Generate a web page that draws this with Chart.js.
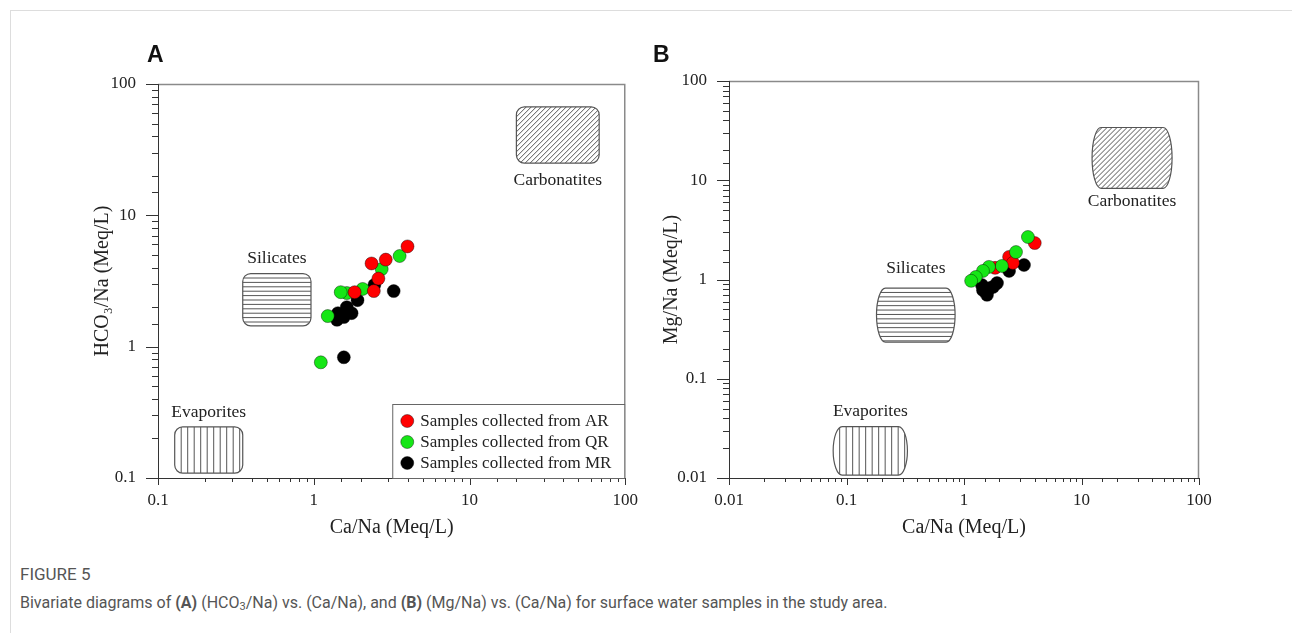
<!DOCTYPE html>
<html>
<head>
<meta charset="utf-8">
<script src="https://cdn.jsdelivr.net/npm/chart.js@4.4.1/dist/chart.umd.min.js"></script>
<style>
  body { margin: 0; background: #fff; width: 1292px; height: 633px; overflow: hidden; position: relative; }
  #frame { position: absolute; left: 10px; top: 10px; right: 0; bottom: 0; border-top: 1px solid #ddd; border-left: 1px solid #ddd; }
  canvas { position: absolute; top: 0; }
  #chartA { left: 0; }
  #chartB { left: 650px; }
  .letter { position: absolute; top: 41px; font: bold 23px "Liberation Sans", Arial, sans-serif; color: #111; }
  #fig { position: absolute; left: 20px; top: 564px; font: 17px Roboto, sans-serif; color: #555; }
  #cap { position: absolute; left: 20px; top: 593px; font: 16px Roboto, sans-serif; color: #555; white-space: nowrap; }
  #cap sub { font-size: 11px; vertical-align: -2px; line-height: 0; }
</style>
</head>
<body>
<div id="frame"></div>
<canvas id="chartA" width="650" height="550"></canvas>
<canvas id="chartB" width="642" height="550"></canvas>
<div class="letter" style="left:147px">A</div>
<div class="letter" style="left:653px">B</div>
<div id="fig">FIGURE 5</div>
<div id="cap">Bivariate diagrams of <b>(A)</b> (HCO<sub>3</sub>/Na) vs. (Ca/Na), and <b>(B)</b> (Mg/Na) vs. (Ca/Na) for surface water samples in the study area.</div>
<script>
// Data - panel A (HCO3/Na vs Ca/Na)
const arCaA = [4.0, 2.9, 2.35, 2.6, 2.43, 1.83];
const arHco3 = [5.8, 4.6, 4.3, 3.3, 2.65, 2.6];
const qrCaA = [3.56, 2.73, 2.06, 1.63, 1.49, 1.23, 1.11];
const qrHco3 = [4.9, 3.9, 2.75, 2.56, 2.6, 1.71, 0.76];
const mrCaA = [3.26, 2.45, 1.91, 1.63, 1.75, 1.43, 1.41, 1.56, 1.56];
const mrHco3 = [2.65, 2.95, 2.26, 2.0, 1.8, 1.8, 1.6, 1.68, 0.83];

// Data - panel B (Mg/Na vs Ca/Na)
const arCaB = [4.0, 2.42, 2.61, 1.84];
const arMg = [2.33, 1.69, 1.47, 1.31];
const qrCaB = [3.5, 2.77, 2.1, 1.63, 1.45, 1.26, 1.15];
const qrMg = [2.68, 1.89, 1.37, 1.34, 1.22, 1.06, 0.97];
const mrCaB = [3.24, 2.42, 1.91, 1.66, 1.45, 1.57, 1.77, 1.42];
const mrMg = [1.4, 1.22, 0.92, 0.82, 0.78, 0.70, 0.84, 0.88];

const seriesLabels = ["Samples collected from AR", "Samples collected from QR", "Samples collected from MR"];
const seriesColors = ["#ff0000", "#16e616", "#000000"];

// End-member zones (data ranges)
const zoneNames = ["Carbonatites", "Silicates", "Evaporites"];
const zoneHatch = ["diag", "horiz", "vert"];
const zoneAX = [[20, 68], [0.35, 0.96], [0.128, 0.35]];
const zoneAY = [[25, 67], [1.44, 3.6], [0.109, 0.245]];
const zoneBX = [[12.3, 59], [0.18, 0.84], [0.077, 0.33]];
const zoneBY = [[8.3, 34], [0.234, 0.82], [0.0107, 0.033]];

const serif = "Liberation Serif";
const txt = "#222";

function isMajor(v) {
  const l = Math.log10(v);
  return Math.abs(l - Math.round(l)) < 1e-6;
}
function logLabel(v) {
  if (!isMajor(v)) return "";
  const e = Math.round(Math.log10(v));
  return e < 0 ? (10 ** e).toFixed(-e) : String(10 ** e);
}

function pts(xs, ys) { return xs.map((x, i) => ({ x, y: ys[i] })); }

function axis(min, max, title, pos, size) {
  return {
    type: "logarithmic", position: pos, min, max,
    grid: { display: false, drawTicks: false },
    border: { display: false },
    ticks: {
      autoSkip: false, maxRotation: 0, padding: pos === "bottom" ? 12 : 22,
      color: txt, font: { family: serif, size: 17 }, callback: logLabel
    },
    title: { display: true, text: title, color: txt, font: { family: serif, size: 20 }, padding: { top: 4, bottom: 4 } },
    afterFit(s) { if (pos === "bottom") s.height = size; else s.width = size; }
  };
}

// frame + tick marks
const framePlugin = {
  id: "frame",
  beforeDatasetsDraw(chart) {
    const { ctx, chartArea: a, scales: { x, y } } = chart;
    ctx.save();
    ctx.strokeStyle = "#8a8a8a"; ctx.lineWidth = 1.5;
    ctx.beginPath();
    ctx.moveTo(a.left, a.top + 0.5); ctx.lineTo(a.right - 0.5, a.top + 0.5); ctx.lineTo(a.right - 0.5, a.bottom);
    ctx.stroke();
    ctx.strokeStyle = "#333"; ctx.lineWidth = 1;
    ctx.beginPath();
    ctx.moveTo(a.left + 0.5, a.top); ctx.lineTo(a.left + 0.5, a.bottom + 0.5); ctx.lineTo(a.right, a.bottom + 0.5);
    x.ticks.forEach(t => {
      const p = Math.round(x.getPixelForValue(t.value)) + 0.5;
      ctx.moveTo(p, a.bottom); ctx.lineTo(p, a.bottom + (isMajor(t.value) ? 7 : 4));
    });
    y.ticks.forEach(t => {
      const p = Math.round(y.getPixelForValue(t.value)) + 0.5;
      ctx.moveTo(a.left, p); ctx.lineTo(a.left - (isMajor(t.value) ? 12 : 6), p);
    });
    ctx.stroke();
    ctx.restore();
  }
};

// hatched end-member boxes
const zonePlugin = {
  id: "zones",
  beforeDatasetsDraw(chart, args, opts) {
    const { ctx, scales: { x, y } } = chart;
    opts.xs.forEach((xr, i) => {
      const l = x.getPixelForValue(xr[0]), r = x.getPixelForValue(xr[1]);
      const t = y.getPixelForValue(opts.ys[i][1]), b = y.getPixelForValue(opts.ys[i][0]);
      const w = r - l, h = b - t;
      ctx.save();
      ctx.beginPath();
      ctx.roundRect(l, t, w, h, opts.barrel ? [{ x: 9, y: h / 2 }] : 8);
      ctx.strokeStyle = "#555"; ctx.lineWidth = 1.2;
      ctx.stroke();
      ctx.clip();
      ctx.beginPath();
      const kind = zoneHatch[i];
      if (kind === "vert") {
        for (let px = l + 6.5; px < r; px += 6.5) { ctx.moveTo(px, t); ctx.lineTo(px, b); }
      } else if (kind === "horiz") {
        for (let py = t + 4.4; py < b; py += 4.4) { ctx.moveTo(l, py); ctx.lineTo(r, py); }
      } else {
        for (let k = -h; k < w + h; k += 5) { ctx.moveTo(l + k, b); ctx.lineTo(l + k + h, t); }
      }
      ctx.strokeStyle = "#555"; ctx.lineWidth = 1;
      ctx.stroke();
      ctx.restore();
      ctx.save();
      ctx.font = `17.5px "${serif}"`;
      ctx.fillStyle = txt; ctx.textAlign = "center"; ctx.textBaseline = "middle";
      const cx = (l + r) / 2;
      const ly = i === 0 ? b + opts.gaps[i] : t - opts.gaps[i];
      ctx.fillText(zoneNames[i], cx, ly);
      ctx.restore();
    });
  }
};

// legend box in lower right of panel A
const legendPlugin = {
  id: "legendBox",
  afterDraw(chart, args, opts) {
    if (!opts.show) return;
    const { ctx, chartArea: a } = chart;
    const l = a.right - 233, t = a.bottom - 74;
    ctx.save();
    ctx.fillStyle = "#fff";
    ctx.fillRect(l, t, a.right - l, a.bottom - t);
    ctx.strokeStyle = "#666"; ctx.lineWidth = 1;
    ctx.strokeRect(l + 0.5, t + 0.5, a.right - l - 1, a.bottom - t);
    ctx.font = `17px "${serif}"`; ctx.textBaseline = "middle"; ctx.fillStyle = txt;
    seriesLabels.forEach((lab, i) => {
      const yy = t + 17 + i * 21;
      ctx.beginPath();
      ctx.arc(l + 15, yy, 6.5, 0, Math.PI * 2);
      ctx.fillStyle = seriesColors[i]; ctx.fill();
      ctx.strokeStyle = "rgba(0,0,0,0.5)"; ctx.lineWidth = 0.8; ctx.stroke();
      ctx.fillStyle = txt;
      ctx.fillText(lab, l + 28, yy + 1);
    });
    ctx.restore();
  }
};

function ds(i, data, order) {
  return {
    label: seriesLabels[i], data, order,
    backgroundColor: seriesColors[i], borderColor: "rgba(0,0,0,0.5)", borderWidth: 0.8,
    pointRadius: 6.5, pointHoverRadius: 6.5
  };
}

new Chart(document.getElementById("chartA"), {
  type: "scatter",
  data: {
    datasets: [
      ds(0, pts(arCaA, arHco3), 0),
      ds(1, pts(qrCaA, qrHco3), 1),
      ds(2, pts(mrCaA, mrHco3), 2)
    ]
  },
  options: {
    responsive: false, animation: false,
    layout: { padding: { left: 87, top: 84, right: 24, bottom: 6 } },
    scales: {
      x: axis(0.1, 100, "Ca/Na (Meq/L)", "bottom", 66),
      y: axis(0.1, 100, "HCO\u2083/Na (Meq/L)", "left", 71)
    },
    plugins: {
      legend: { display: false }, tooltip: { enabled: false },
      zones: { xs: zoneAX, ys: zoneAY, barrel: false, gaps: [17, 15, 14] },
      legendBox: { show: true }
    }
  },
  plugins: [framePlugin, zonePlugin, legendPlugin]
});

new Chart(document.getElementById("chartB"), {
  type: "scatter",
  data: {
    datasets: [
      ds(0, pts(arCaB, arMg), 1),
      ds(1, pts(qrCaB, qrMg), 0),
      ds(2, pts(mrCaB, mrMg), 2)
    ]
  },
  options: {
    responsive: false, animation: false,
    layout: { padding: { left: 6, top: 81, right: 93, bottom: 6 } },
    scales: {
      x: axis(0.01, 100, "Ca/Na (Meq/L)", "bottom", 66),
      y: axis(0.01, 100, "Mg/Na (Meq/L)", "left", 73)
    },
    plugins: {
      legend: { display: false }, tooltip: { enabled: false },
      zones: { xs: zoneBX, ys: zoneBY, barrel: true, gaps: [13, 20, 15] },
      legendBox: { show: false }
    }
  },
  plugins: [framePlugin, zonePlugin, legendPlugin]
});
</script>
</body>
</html>
